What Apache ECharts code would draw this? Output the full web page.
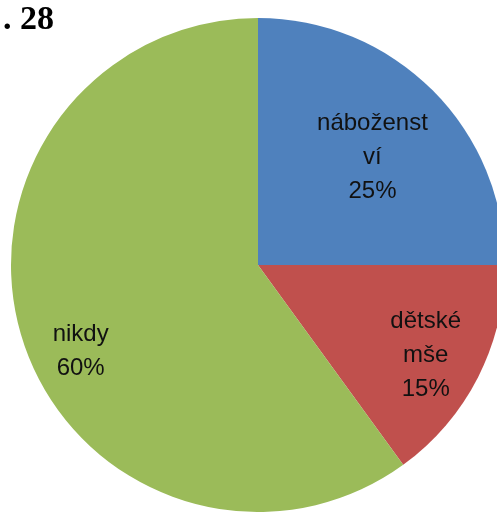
<!DOCTYPE html>
<html>
<head>
<meta charset="utf-8">
<script src="https://cdn.jsdelivr.net/npm/echarts@6/dist/echarts.min.js"></script>
<style>
  html, body { margin: 0; padding: 0; background: #fff; }
  #chart { width: 497px; height: 512px; }
</style>
</head>
<body>
<div id="chart"></div>
<script>
// data
var names = ["náboženst\nví", "dětské\nmše", "nikdy"];
var values = [25, 15, 60];
var colors = ["#4f81bd", "#c0504d", "#9bbb59"];
// posun popisků oproti výchozí pozici uvnitř výseče
var labelShift = [[25, -18], [55, 33], [-57, 47]];

var chart = echarts.init(document.getElementById("chart"));
var option = {
  animation: false,
  title: {
    text: ". 28",
    left: -2,
    top: -2,
    textStyle: {
      fontFamily: "Liberation Serif",
      fontWeight: "bold",
      fontSize: 34,
      color: "#000"
    }
  },
  series: [
    {
      type: "pie",
      center: [258, 265],
      radius: 247,
      startAngle: 90,
      clockwise: true,
      data: names.map(function (n, i) {
        return { name: n, value: values[i], itemStyle: { color: colors[i] } };
      }),
      itemStyle: { borderWidth: 0 },
      label: {
        position: "inside",
        formatter: "{b}\n{d}%",
        fontFamily: "Liberation Sans",
        fontSize: 24,
        lineHeight: 34,
        color: "#111",
        align: "center"
      },
      labelLine: { show: false },
      labelLayout: function (p) {
        var s = labelShift[p.dataIndex];
        return { dx: s[0], dy: s[1] };
      },
      emphasis: { disabled: true }
    }
  ]
};
chart.setOption(option);
window.onresize = function () {
  chart.resize();
};
</script>
</body>
</html>
